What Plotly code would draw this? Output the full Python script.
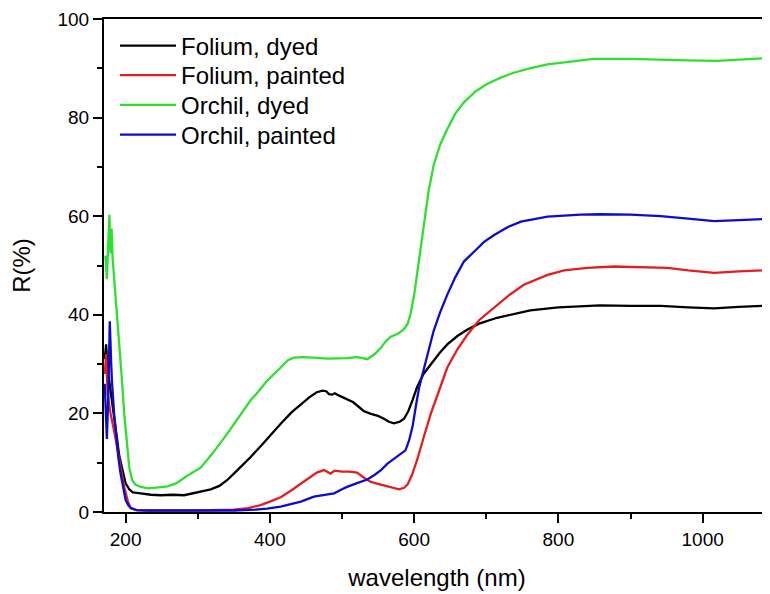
import plotly.graph_objects as go

# ---- data ----
folium_dyed_x = [171, 173, 175, 177, 179, 184, 188, 191, 196, 200, 205, 210, 221, 235, 249, 265, 281, 300, 318, 330, 341, 355, 373, 390, 406, 415, 430, 443, 455, 465, 473, 478, 482, 486, 490, 496, 505, 515, 521, 530, 540, 550, 558, 565, 572, 580, 586, 592, 598, 604, 613, 623, 635, 646, 660, 674, 690, 715, 740, 761, 800, 858, 900, 942, 980, 1016, 1050, 1094]
folium_dyed_y = [31, 34, 29, 27, 24, 20, 15, 11.5, 8, 5.8, 4.6, 4.0, 3.8, 3.5, 3.4, 3.5, 3.4, 4.0, 4.6, 5.3, 6.5, 8.5, 11.1, 13.8, 16.5, 17.9, 20.2, 21.9, 23.3, 24.3, 24.6, 24.5, 23.9, 23.8, 24.1, 23.6, 23.0, 22.3, 21.6, 20.5, 19.9, 19.5, 18.9, 18.3, 18.0, 18.3, 18.9, 20.5, 22.8, 25.3, 28.0, 30.0, 32.2, 34.0, 35.7, 37.0, 38.2, 39.4, 40.3, 40.9, 41.5, 41.9, 41.8, 41.8, 41.5, 41.3, 41.6, 41.9]

folium_painted_x = [171, 173, 175, 177, 179, 184, 188, 193, 198, 203, 207, 215, 235, 300, 350, 370, 387, 400, 415, 430, 443, 455, 465, 475, 480, 484, 490, 500, 510, 521, 530, 540, 550, 558, 570, 579, 586, 591, 597, 604, 613, 623, 635, 646, 660, 674, 690, 711, 730, 752, 785, 808, 840, 877, 910, 951, 980, 1016, 1050, 1094]
folium_painted_y = [28, 32, 24, 22, 20, 16.5, 13.2, 9, 5.1, 2.2, 0.8, 0.4, 0.3, 0.3, 0.5, 0.8, 1.4, 2.1, 3.0, 4.4, 5.8, 7.0, 8.0, 8.5, 8.2, 7.8, 8.4, 8.2, 8.2, 8.0, 7.0, 6.1, 5.7, 5.4, 4.9, 4.6, 4.9, 5.6, 7.5, 10.5, 15.0, 19.9, 24.8, 29.3, 33.0, 36.0, 38.9, 41.4, 43.8, 46.1, 48.1, 49.0, 49.5, 49.8, 49.6, 49.5, 49.0, 48.5, 48.8, 49.1]

orchil_dyed_x = [172, 174, 176, 177.5, 179, 180.5, 182, 185, 188.5, 191, 195, 198, 202, 205, 209, 214, 221, 232, 245, 258, 270, 285, 304, 320, 341, 357, 373, 385, 396, 415, 425, 433, 445, 461, 480, 507, 520, 526, 535, 545, 554, 560, 567, 578, 586, 591, 595, 600, 604, 608, 613.6, 620, 627, 636, 646, 657, 669, 685, 701, 720, 738, 760, 785, 803, 831, 849, 900, 942, 980, 1020, 1060, 1094]
orchil_dyed_y = [52, 47.2, 55, 60.3, 52.5, 57.5, 51.4, 46, 40, 35, 26.6, 20, 13, 9.1, 6.5, 5.5, 5.1, 4.8, 5.0, 5.2, 5.8, 7.3, 9.0, 11.8, 15.9, 19.2, 22.6, 24.6, 26.6, 29.3, 30.8, 31.3, 31.4, 31.3, 31.1, 31.2, 31.4, 31.3, 31.0, 32.0, 33.3, 34.5, 35.5, 36.2, 37.1, 38.2, 40.1, 44, 48.1, 53, 58.9, 65, 70.3, 74.5, 77.7, 80.8, 83.1, 85.3, 86.8, 88.1, 89.1, 90.0, 90.8, 91.1, 91.7, 91.9, 91.9, 91.7, 91.6, 91.5, 91.8, 92.1]

orchil_painted_x = [171, 173, 174, 176, 178, 180, 181, 184, 186, 190, 193, 197, 200, 204, 207, 215, 230, 300, 350, 380, 396, 415, 424, 443, 461, 475, 489, 500, 507, 520, 535, 545, 554, 563, 572, 580, 588, 593, 598, 603, 607, 614, 620, 627, 636, 646, 657, 669, 683, 697, 711, 730, 748, 785, 831, 858, 900, 942, 980, 1016, 1050, 1094]
orchil_painted_y = [26, 20, 14.8, 24, 38.7, 30, 26.6, 20, 16.5, 11, 7.8, 4.5, 2.4, 1.3, 0.8, 0.4, 0.3, 0.3, 0.3, 0.5, 0.7, 1.1, 1.4, 2.1, 3.1, 3.5, 3.8, 4.6, 5.1, 5.8, 6.6, 7.5, 8.5, 9.8, 10.8, 11.5, 12.5, 14.5, 17.5, 22, 25.3, 29.3, 33.0, 36.7, 40.5, 44.1, 47.6, 50.8, 52.8, 54.8, 56.2, 57.8, 58.9, 59.9, 60.3, 60.4, 60.3, 60.0, 59.5, 59.0, 59.2, 59.5]

series_names = ["Folium, dyed", "Folium, painted", "Orchil, dyed", "Orchil, painted"]
series_colors = ["#000000", "#e41e1e", "#2ee02e", "#0c0cd0"]

x_tickvals = [200, 400, 600, 800, 1000]
y_tickvals = [0, 20, 40, 60, 80, 100]

FONT = "Liberation Sans, Arial, sans-serif"

legend_ids = ["legend", "legend2", "legend3", "legend4"]
legend_rows = [0.9452, 0.8854, 0.8249, 0.7647]

fig = go.Figure()
for name, xs, ys, col, lid in zip(
    series_names,
    [folium_dyed_x, folium_painted_x, orchil_dyed_x, orchil_painted_x],
    [folium_dyed_y, folium_painted_y, orchil_dyed_y, orchil_painted_y],
    series_colors, legend_ids,
):
    fig.add_trace(go.Scatter(x=xs, y=ys, mode="lines", name=name, legend=lid,
                             line=dict(color=col, width=2.3)))

legend_layout = {}
for lid, ry in zip(legend_ids, legend_rows):
    legend_layout[lid] = dict(x=0.0165, y=ry, xanchor="left", yanchor="middle",
                              bgcolor="rgba(0,0,0,0)", borderwidth=0,
                              font=dict(size=24, family=FONT, color="black"),
                              itemwidth=56)

fig.update_layout(
    width=762, height=586,
    margin=dict(l=96, r=0, t=11, b=82),
    paper_bgcolor="white", plot_bgcolor="white",
    font=dict(family=FONT, color="black", size=19),
    showlegend=True,
    **legend_layout,
)
fig.update_xaxes(
    range=[170, 1093.4], showgrid=False, zeroline=False, automargin=False,
    showline=True, linecolor="black", linewidth=2, mirror=True,
    ticks="outside", ticklen=9, tickwidth=2, tickcolor="black",
    tickvals=x_tickvals, tickfont=dict(size=19, family=FONT),
    ticklabeloverflow="allow",
    minor=dict(ticks="outside", ticklen=5, tickwidth=2, tickcolor="black", dtick=100, tick0=0),
    title=dict(text="wavelength (nm)", font=dict(size=24, family=FONT), standoff=20),
)
fig.update_yaxes(
    range=[0, 100], showgrid=False, zeroline=False, automargin=False,
    showline=True, linecolor="black", linewidth=2, mirror=False,
    ticks="outside", ticklen=9, tickwidth=2, tickcolor="black",
    tickvals=y_tickvals, tickfont=dict(size=19, family=FONT),
    ticklabeloverflow="allow",
    minor=dict(ticks="outside", ticklen=5, tickwidth=2, tickcolor="black", dtick=10, tick0=0),
    title=dict(text="R(%)", font=dict(size=24, family=FONT), standoff=20),
)

fig.write_html("out.html")
